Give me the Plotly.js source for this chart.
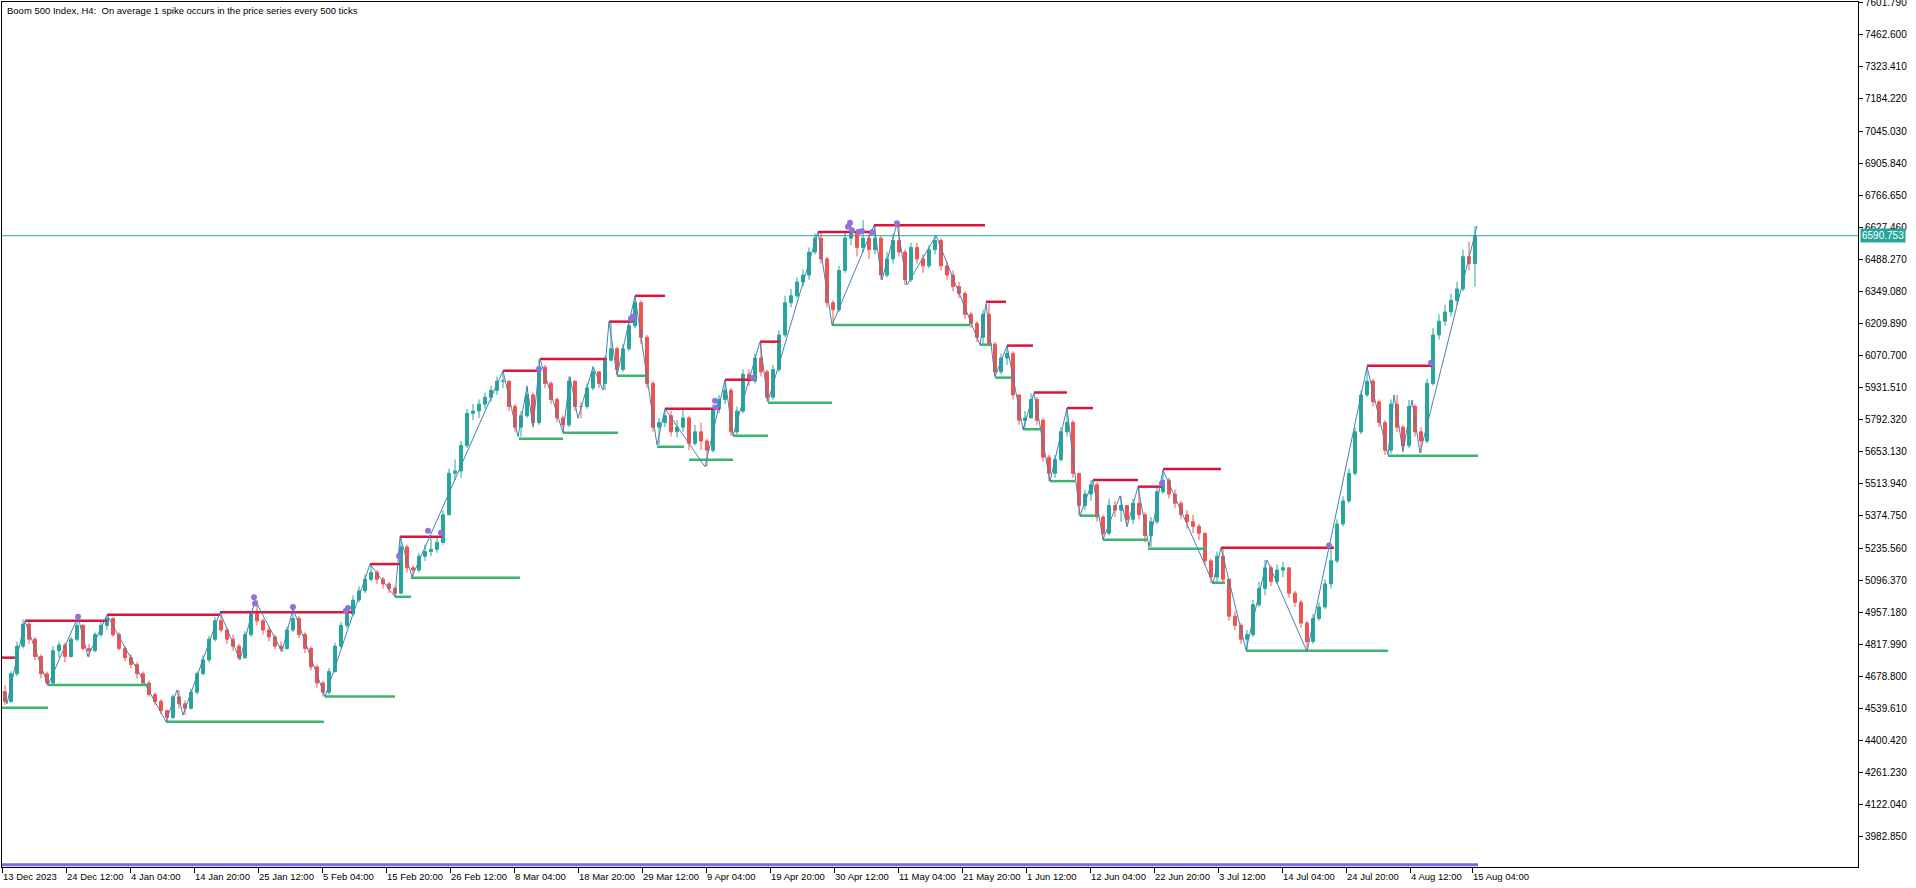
<!DOCTYPE html>
<html>
<head>
<meta charset="utf-8">
<script src="https://cdn.plot.ly/plotly-3.0.1.min.js"></script>
<style>
  html, body { margin: 0; padding: 0; background: #ffffff; }
  #chart { width: 1916px; height: 888px; }
</style>
</head>
<body>
<div id="chart"></div>
<script>
// Boom 500 Index, H4 — one candle per trading day (6 H4 bars), bar index = H4 slot
const firstOpen = 4612;
const closes = [
  4570,4690,4810,4905,4840,4765,4690,4650,4790,4815,4765,4840,4900,4800,4790,4860,4900,4930,4860,4800,
  4760,4730,4690,4650,4600,4570,4530,4500,4590,4560,4540,4610,4690,4750,4840,4920,4880,4840,4810,4760,
  4860,4950,4920,4880,4850,4810,4800,4880,4930,4860,4800,4720,4650,4610,4700,4810,4900,4950,5010,5050,
  5100,5130,5100,5080,5060,5040,5240,5150,5140,5200,5220,5230,5260,5380,5560,5570,5680,5820,5830,5860,
  5890,5920,5960,5960,5850,5760,5810,5900,5780,6020,5950,5880,5800,5770,5960,5850,5850,5930,6000,5950,
  6050,6100,6010,6100,6200,6300,6150,5950,5760,5780,5810,5740,5760,5800,5690,5740,5700,5660,5840,5880,
  5920,5740,5830,5990,5960,6060,6000,5890,6010,6160,6300,6330,6390,6420,6520,6580,6490,6300,6270,6440,
  6580,6600,6540,6580,6530,6580,6420,6490,6570,6520,6400,6540,6490,6460,6530,6570,6460,6420,6370,6340,
  6250,6210,6150,6250,6120,6000,6060,6080,5900,5790,5800,5880,5790,5630,5560,5620,5740,5780,5560,5420,
  5470,5510,5370,5300,5420,5400,5420,5360,5430,5380,5290,5350,5480,5530,5470,5430,5380,5350,5330,5300,
  5180,5110,5200,5100,4940,4900,4840,4860,4990,5060,5150,5090,5140,5150,5040,5000,4910,4830,4930,4980,
  5080,5180,5340,5440,5560,5740,5900,5960,5870,5780,5660,5860,5760,5680,5850,5740,5700,5950,6160,6220,
  6260,6310,6360,6500,6470,6590.753
];
const highs = [
  4640,4700,4830,4925,4915,4850,4775,4700,4810,4830,4825,4850,4940,4905,4820,4870,4915,4947,4935,4870,
  4810,4775,4740,4700,4660,4610,4580,4535,4600,4620,4575,4625,4700,4770,4855,4935,4957,4890,4860,4820,
  4875,4965,5010,4930,4895,4860,4830,4895,4974,4940,4870,4810,4730,4660,4715,4825,4915,4975,5030,5070,
  5120,5166,5140,5110,5090,5070,5285,5250,5160,5215,5250,5290,5280,5400,5580,5620,5700,5840,5860,5880,
  5910,5940,5980,6005,5960,5860,5830,5940,5910,6056,6030,5960,5890,5810,5980,5960,5870,5950,6022,6000,
  6070,6218,6110,6120,6240,6330,6310,6160,5960,5800,5840,5830,5790,5835,5810,5770,5780,5710,5860,5900,
  5966,5930,5850,6010,6010,6080,6131,6010,6030,6180,6330,6360,6410,6445,6540,6600,6608,6500,6310,6460,
  6610,6640,6620,6659,6600,6636,6590,6520,6600,6645,6530,6560,6560,6510,6550,6591,6580,6480,6440,6390,
  6350,6260,6220,6270,6297,6130,6080,6114,6090,5900,5830,5907,5890,5800,5640,5640,5760,5843,5790,5560,
  5490,5531,5520,5380,5450,5440,5462,5420,5450,5502,5390,5370,5500,5574,5540,5490,5440,5400,5380,5340,
  5300,5190,5220,5237,5100,4960,4910,4880,5010,5090,5184,5160,5165,5175,5150,5050,5010,4920,4950,5000,
  5100,5247,5360,5460,5580,5760,5920,6022,5970,5880,5790,5880,5900,5770,5878,5860,5760,5970,6190,6250,
  6290,6340,6390,6530,6565,6633
];
const lows = [
  4555,4565,4680,4800,4820,4750,4670,4638,4645,4760,4740,4760,4830,4790,4762,4785,4850,4880,4850,4790,
  4745,4715,4670,4640,4590,4555,4515,4482,4495,4540,4511,4535,4600,4685,4740,4830,4870,4820,4790,4750,
  4755,4850,4900,4860,4830,4795,4786,4795,4870,4845,4780,4705,4630,4591,4600,4695,4800,4890,4940,5000,
  5040,5090,5080,5060,5040,5024,5035,5130,5111,5130,5180,5200,5215,5250,5380,5530,5540,5670,5790,5800,
  5840,5870,5900,5930,5830,5740,5719,5800,5760,5770,5930,5860,5780,5736,5760,5830,5798,5840,5920,5930,
  5921,6050,5986,6000,6090,6190,6120,5930,5740,5683,5760,5720,5715,5740,5660,5680,5660,5588,5650,5820,
  5860,5723,5730,5820,5940,5950,5980,5871,5880,6000,6150,6280,6320,6370,6400,6510,6470,6280,6203,6260,
  6430,6550,6500,6520,6490,6510,6399,6410,6470,6500,6377,6390,6470,6430,6450,6510,6440,6400,6350,6320,
  6230,6190,6130,6117,6109,5979,5990,6030,5880,5770,5751,5800,5770,5610,5526,5540,5610,5720,5540,5376,
  5400,5440,5350,5272,5290,5370,5350,5328,5340,5360,5260,5241,5340,5470,5450,5410,5360,5320,5300,5270,
  5160,5083,5090,5080,4920,4880,4820,4793,4850,4980,5030,5070,5080,5110,5020,4980,4890,4786,4820,4920,
  4970,5060,5170,5330,5430,5550,5730,5890,5850,5760,5639,5645,5740,5654,5670,5720,5648,5690,5940,6140,
  6200,6240,6290,6350,6440,6370
];

// zigzag pivots: [bar index, price]
const zigzagX = [3,7,25,48,78,88,107,166,177,183,220,240,255,282,293,325,370,395,400,412,
  503,518,527,533,540,563,570,578,593,603,609,617,635,657,665,705,725,733,760,768,
  818,832,874,882,897,907,936,980,986,995,1007,1023,1034,1050,1067,1080,1093,1103,1120,1127,
  1138,1149,1163,1213,1221,1246,1267,1307,1367,1388,1394,1403,1412,1420,1477];
const zigzagY = [4612,4560,4920,4641,4938,4764,4946,4482,4620,4511,4957,4750,5010,4786,4974,4591,5166,5024,5285,5111,
  6005,5719,5936,5762,6056,5736,5979,5798,6022,5921,6218,5986,6330,5683,5840,5588,5966,5723,6131,5871,
  6608,6203,6636,6399,6645,6377,6591,6117,6297,5979,6114,5751,5910,5526,5843,5376,5531,5272,5462,5328,
  5502,5241,5574,5083,5237,4793,5184,4786,6022,5639,5900,5654,5878,5648,6633];

// resistance levels: start bar, end bar, price
const resStart = [2,25,107,220,370,400,503,540,609,635,665,725,760,818,874,986,1007,1034,1067,1093,1138,1163,1221,1367];
const resEnd   = [15,107,220,352,400,442,540,607,633,665,720,753,780,875,985,1006,1033,1067,1093,1138,1162,1221,1334,1432];
const resLevel = [4760,4920,4946,4957,5166,5285,6005,6056,6218,6330,5840,5966,6131,6607,6636,6304,6114,5910,5843,5531,5502,5579,5237,6027];

// support levels: start bar, end bar, price
const supStart = [2,48,166,325,395,411,519,563,617,657,689,733,768,832,980,995,1023,1050,1080,1103,1148,1212,1246,1388];
const supEnd   = [48,150,324,395,411,520,563,618,646,684,733,768,832,970,992,1012,1042,1075,1099,1147,1207,1225,1388,1478];
const supLevel = [4543,4641,4482,4591,5024,5107,5710,5736,5983,5675,5619,5723,5866,6203,6118,5975,5751,5526,5376,5272,5233,5085,4790,5636];

// spike markers
const spikeX = [78,254,255,293,346,348,399,428,441,539,631,633,715,716,753,848,850,852,859,862,872,897,1162,1329,1431];
const spikeY = [4938,5022,4995,4980,4965,4975,5201,5311,5302,6012,6230,6240,5875,5845,5975,6630,6647,6614,6608,6610,6606,6645,5516,5247,6040];

// spike indicator baseline
const spikeBaseX = [0,1478];
const spikeBaseY = [3861,3861];

// time axis: one label every 64 bars
const tickBars = [2,66,130,194,258,322,386,450,514,578,642,706,770,834,898,962,1026,1090,1154,1218,1282,1346,1410,1472];
const tickLabels = ["13 Dec 2023","24 Dec 12:00","4 Jan 04:00","14 Jan 20:00","25 Jan 12:00","5 Feb 04:00",
  "15 Feb 20:00","26 Feb 12:00","8 Mar 04:00","18 Mar 20:00","29 Mar 12:00","9 Apr 04:00","19 Apr 20:00",
  "30 Apr 12:00","11 May 04:00","21 May 20:00","1 Jun 12:00","12 Jun 04:00","22 Jun 20:00","3 Jul 12:00",
  "14 Jul 04:00","24 Jul 20:00","4 Aug 12:00","15 Aug 04:00"];

// price axis: first level and step
const priceBase = 3982.85, priceStep = 139.19, priceCount = 27;
const priceTicks = [];
for (let i = 0; i < priceCount; i++) priceTicks.push(+(priceBase + i * priceStep).toFixed(3));

const BAR_PER_CANDLE = 6;
const candleX = closes.map((_, i) => 2 + i * BAR_PER_CANDLE + 3);
const opens = closes.map((c, i) => (i === 0 ? firstOpen : closes[i - 1]));
const lastPrice = closes[closes.length - 1];

function segments(starts, ends, levels) {
  const xs = [], ys = [];
  starts.forEach((s, i) => { xs.push(s, ends[i], null); ys.push(levels[i], levels[i], null); });
  return { xs, ys };
}
const res = segments(resStart, resEnd, resLevel);
const sup = segments(supStart, supEnd, supLevel);

const UP = '#26a69a', DOWN = '#ef5350';

const traces = [
  {
    type: 'candlestick', x: candleX, open: opens, high: highs, low: lows, close: closes,
    increasing: { line: { color: UP, width: 1 }, fillcolor: UP },
    decreasing: { line: { color: DOWN, width: 1 }, fillcolor: DOWN },
    whiskerwidth: 0, hoverinfo: 'skip', showlegend: false
  },
  { type: 'scatter', mode: 'lines', x: res.xs, y: res.ys, line: { color: '#dc143c', width: 2.5 }, hoverinfo: 'skip', showlegend: false },
  { type: 'scatter', mode: 'lines', x: sup.xs, y: sup.ys, line: { color: '#3cb371', width: 2.5 }, hoverinfo: 'skip', showlegend: false },
  { type: 'scatter', mode: 'lines', x: zigzagX, y: zigzagY, line: { color: '#4682b4', width: 1 }, hoverinfo: 'skip', showlegend: false },
  { type: 'scatter', mode: 'markers', x: spikeX, y: spikeY, marker: { color: '#9370db', size: 6 }, hoverinfo: 'skip', showlegend: false },
  { type: 'scatter', mode: 'lines', x: spikeBaseX, y: spikeBaseY, line: { color: '#7b68ee', width: 3 }, hoverinfo: 'skip', showlegend: false }
];

const FONT = { family: 'Liberation Sans, Arial, sans-serif', size: 10, color: '#000000' };
const TIME_FONT = { family: FONT.family, size: 9.5, color: '#000000' };

// time labels sit to the right of their tick marks
const timeAnnotations = tickBars.map((b, i) => ({
  xref: 'x', yref: 'paper', x: b, y: 0, xanchor: 'left', yanchor: 'top',
  xshift: 0, yshift: -3, showarrow: false, text: tickLabels[i], font: TIME_FONT, borderpad: 0
}));

const layout = {
  width: 1916, height: 888,
  margin: { l: 2, r: 58, t: 2, b: 21, pad: 0 },
  paper_bgcolor: '#ffffff', plot_bgcolor: '#ffffff',
  font: FONT,
  showlegend: false,
  hovermode: false,
  xaxis: {
    range: [2, 1858], fixedrange: true,
    showgrid: false, zeroline: false,
    showline: true, mirror: true, linecolor: '#000000', linewidth: 1,
    tickmode: 'array', tickvals: tickBars, showticklabels: false,
    ticks: 'outside', ticklen: 5, tickcolor: '#000000', tickwidth: 1,
    rangeslider: { visible: false }
  },
  yaxis: {
    side: 'right', range: [3851.7, 7604.8], fixedrange: true,
    showgrid: false, zeroline: false,
    showline: true, mirror: true, linecolor: '#000000', linewidth: 1,
    tickmode: 'array', tickvals: priceTicks, ticktext: priceTicks.map(v => v.toFixed(3)),
    ticks: 'outside', ticklen: 4, tickcolor: '#000000', tickwidth: 1,
    ticklabeloverflow: 'allow',
    tickfont: FONT
  },
  shapes: [
    { type: 'line', xref: 'paper', x0: 0, x1: 1, yref: 'y', y0: lastPrice, y1: lastPrice,
      line: { color: UP, width: 1 }, layer: 'below' }
  ],
  annotations: [
    { xref: 'paper', yref: 'paper', x: 0, y: 1, xanchor: 'left', yanchor: 'top', xshift: 3, yshift: -1,
      showarrow: false, text: 'Boom 500 Index, H4:  On average 1 spike occurs in the price series every 500 ticks',
      font: { family: FONT.family, size: 9.5, color: '#000000' } },
    { xref: 'paper', yref: 'y', x: 1, y: lastPrice, xanchor: 'left', yanchor: 'middle', xshift: 2,
      showarrow: false, text: lastPrice.toFixed(3), bgcolor: UP, borderpad: 1,
      font: { family: FONT.family, size: 10, color: '#ffffff' } }
  ].concat(timeAnnotations)
};

Plotly.newPlot('chart', traces, layout, { staticPlot: true, displayModeBar: false });
</script>
</body>
</html>
